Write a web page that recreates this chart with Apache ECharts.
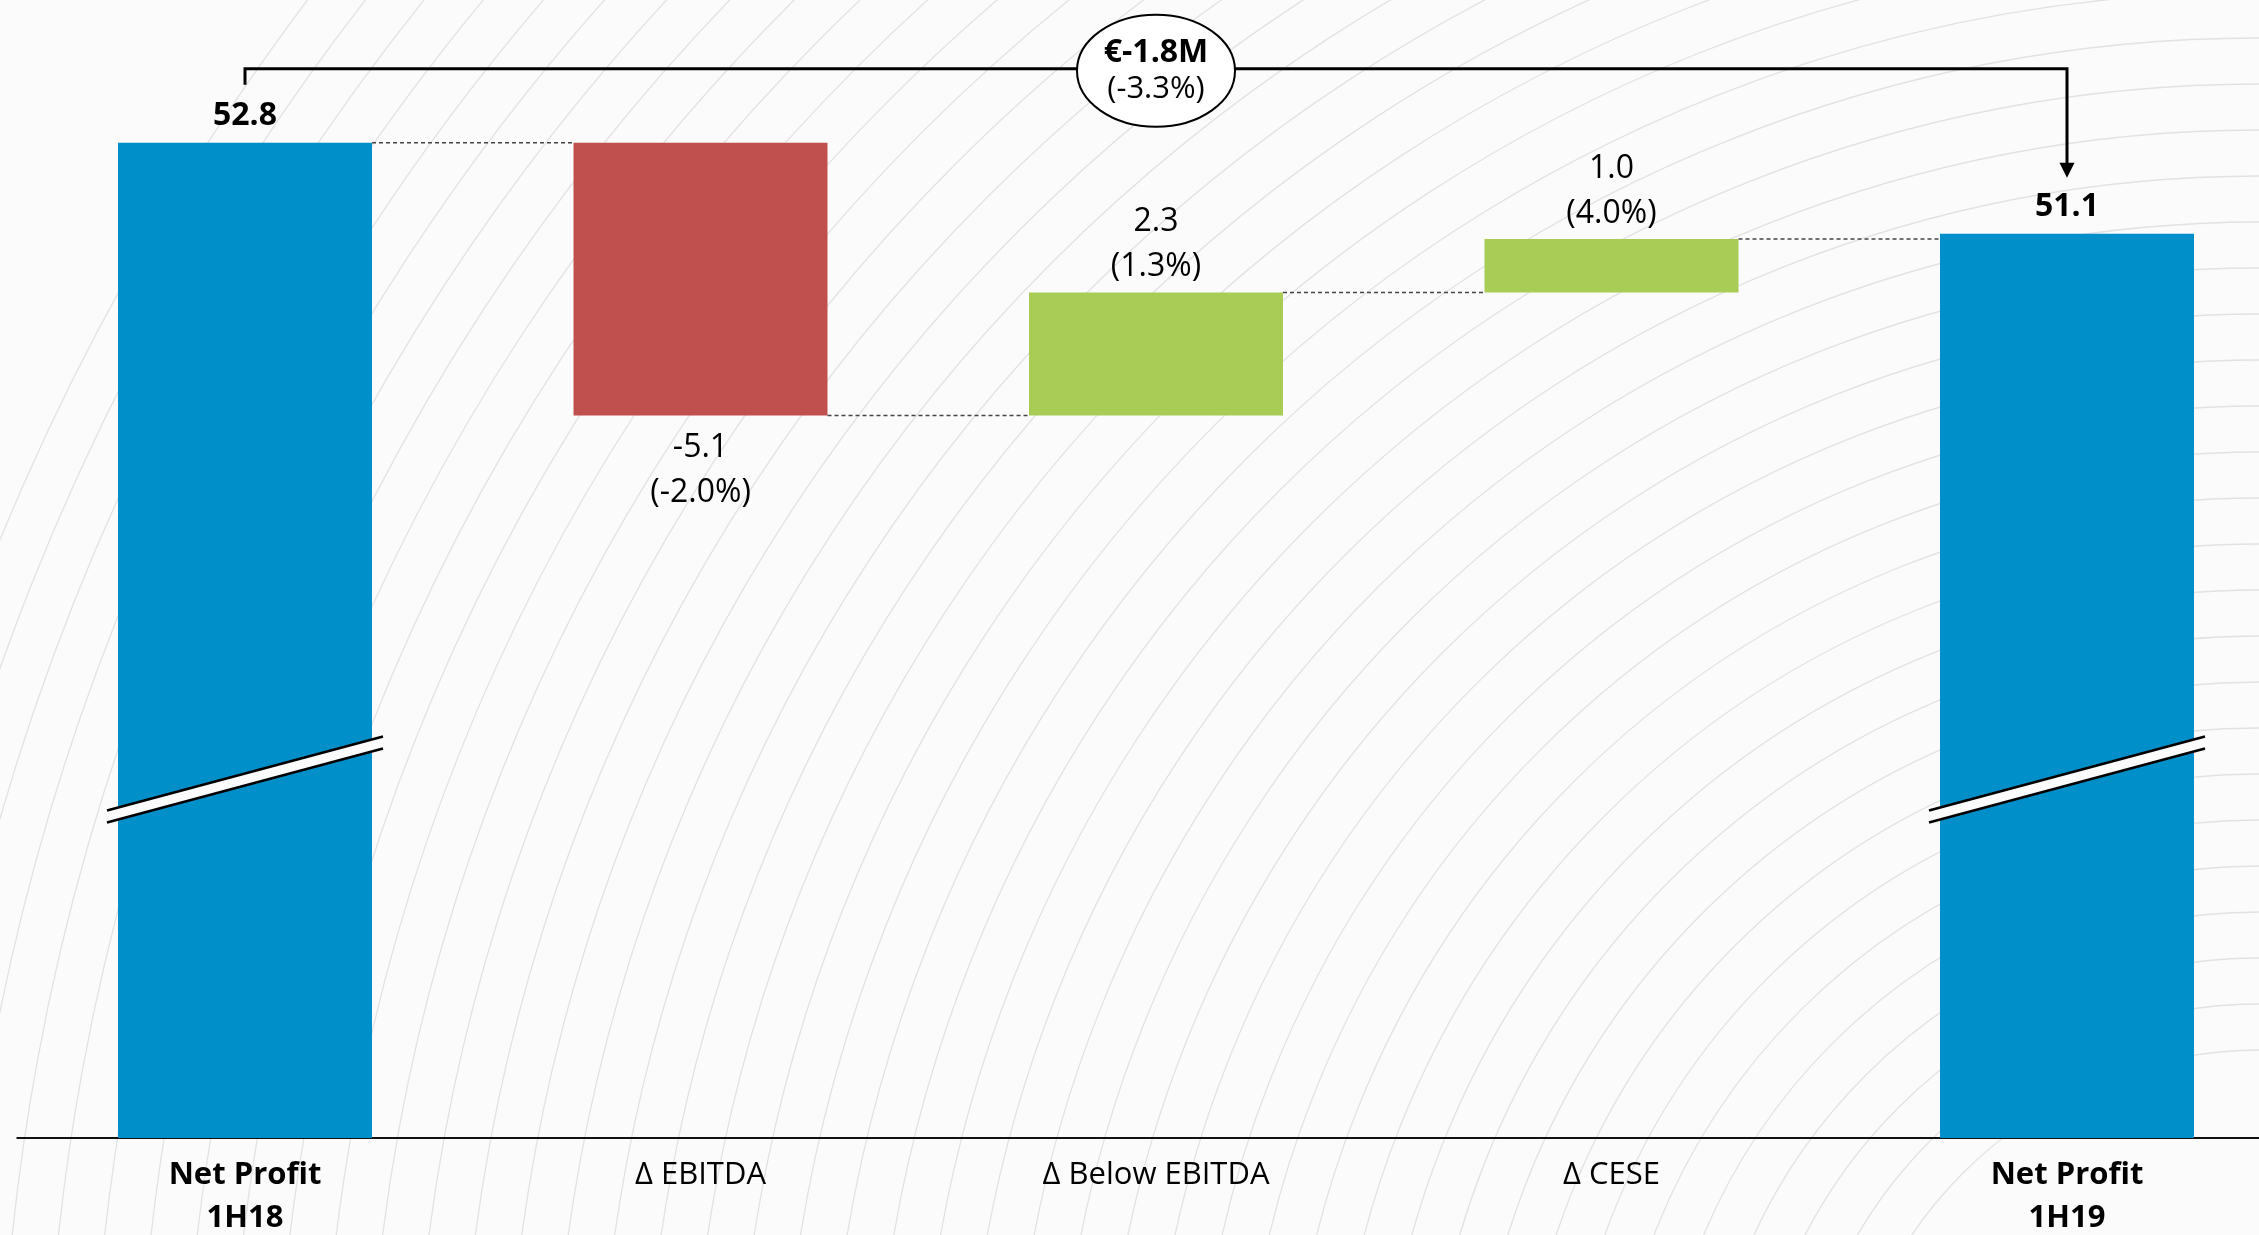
<!DOCTYPE html>
<html>
<head>
<meta charset="utf-8">
<script src="https://cdn.jsdelivr.net/npm/echarts@6/dist/echarts.min.js"></script>
<style>
  html, body { margin: 0; padding: 0; background: #fbfbfb; }
  #chart { width: 2259px; height: 1235px; }
</style>
</head>
<body>
<div id="chart"></div>
<script>
// Net profit bridge, 1H18 -> 1H19 (EUR millions)
const categories = ['Net Profit\n1H18', 'Δ EBITDA', 'Δ Below EBITDA', 'Δ CESE', 'Net Profit\n1H19'];
const isTotal = [true, false, false, false, true];
const stepValues = [52.8, -5.1, 2.3, 1.0, 51.1];
const stepPercents = ['', '(-2.0%)', '(1.3%)', '(4.0%)', ''];
const totalChangeLabel = '€-1.8M';
const totalChangePct = '(-3.3%)';

const COLORS = { total: '#008fc9', up: '#a9cc56', down: '#c0504d' };
const BG = '#fbfbfb';
const FONT = "'Open Sans', 'Noto Sans', sans-serif";
const BAR_WIDTH = 254;
const AXIS_MIN = 34.2;     // value axis is cut; totals run down through the break
const AXIS_MAX = 55;
const BREAK_VALUE = 40.9;  // where the break symbol crosses the total bars

// Build the floating waterfall from the step values
const baseData = [];
const barData = [];
const connectorData = [];
let running = 0;
stepValues.forEach((v, i) => {
  let base, height, color, position, text;
  if (isTotal[i]) {
    base = 0; height = v; running = v; color = COLORS.total; position = 'top';
    text = v.toFixed(1);
  } else if (v >= 0) {
    base = running; height = v; running += v; color = COLORS.up; position = 'top';
    text = v.toFixed(1) + '\n' + stepPercents[i];
  } else {
    base = running + v; height = -v; running += v; color = COLORS.down; position = 'bottom';
    text = v.toFixed(1) + '\n' + stepPercents[i];
  }
  baseData.push(+base.toFixed(2));
  barData.push({
    value: +height.toFixed(2),
    itemStyle: { color: color },
    label: {
      show: true,
      position: position,
      distance: isTotal[i] ? 4 : (position === 'top' ? 3 : 10),
      formatter: text,
      fontWeight: isTotal[i] ? 'bold' : 'normal'
    }
  });
  if (i < stepValues.length - 1) connectorData.push([i, +running.toFixed(2)]);
});

// Faint sweeping arcs of the slide backdrop
const backdrop = [];
for (let r = 420; r <= 2450; r += 46) {
  backdrop.push({
    type: 'arc',
    silent: true,
    z: -10,
    shape: { cx: 2260, cy: 1470, r: r, startAngle: Math.PI, endAngle: 2 * Math.PI },
    style: { stroke: '#e2e2e4', lineWidth: 1.3, fill: null }
  });
}

const chart = echarts.init(document.getElementById('chart'), null, { renderer: 'canvas' });

chart.setOption({
  backgroundColor: BG,
  animation: false,
  graphic: { elements: backdrop },
  grid: {
    left: 17.25, top: 25, width: 2277.5, bottom: 97,
    containLabel: false,
    outerBoundsMode: 'none'
  },
  xAxis: {
    type: 'category',
    data: categories.map((c, i) => ({
      value: c,
      textStyle: { fontWeight: isTotal[i] ? 'bold' : 'normal' }
    })),
    axisLine: { show: true, lineStyle: { color: '#111', width: 2 } },
    axisTick: { show: false },
    axisLabel: {
      margin: 16,
      color: '#000',
      fontFamily: FONT,
      fontSize: 31,
      lineHeight: 43,
      interval: 0
    },
    splitLine: { show: false }
  },
  yAxis: {
    type: 'value',
    min: AXIS_MIN,
    max: AXIS_MAX,
    show: false,
    splitLine: { show: false }
  },
  series: [
    {
      name: 'base',
      type: 'bar',
      stack: 'bridge',
      barWidth: BAR_WIDTH,
      silent: true,
      itemStyle: { color: 'transparent' },
      data: baseData,
      z: 2
    },
    {
      name: 'step',
      type: 'bar',
      stack: 'bridge',
      barWidth: BAR_WIDTH,
      clip: true,
      label: {
        color: '#000',
        fontFamily: FONT,
        fontSize: 32,
        lineHeight: 45
      },
      data: barData,
      z: 2
    },
    {
      // dashed connectors between consecutive bars
      name: 'connectors',
      type: 'custom',
      silent: true,
      clip: false,
      z: 3,
      data: connectorData,
      renderItem: function (params, api) {
        const i = api.value(0);
        const lvl = api.value(1);
        const p0 = api.coord([i, lvl]);
        const p1 = api.coord([i + 1, lvl]);
        return {
          type: 'line',
          shape: { x1: p0[0] + BAR_WIDTH / 2, y1: p0[1], x2: p1[0] - BAR_WIDTH / 2, y2: p1[1] },
          style: { stroke: '#444', lineWidth: 1.5, lineDash: [4, 3] }
        };
      }
    },
    {
      // axis-break symbol across the total bars
      name: 'breaks',
      type: 'custom',
      silent: true,
      clip: false,
      z: 4,
      data: isTotal.map((t, i) => t ? [i, BREAK_VALUE] : null).filter(Boolean),
      renderItem: function (params, api) {
        const c = api.coord([api.value(0), api.value(1)]);
        const hw = 138, rise = 37, gap = 6;
        const a1 = [c[0] - hw, c[1] + rise - gap], a2 = [c[0] + hw, c[1] - rise - gap];
        const b1 = [c[0] - hw, c[1] + rise + gap], b2 = [c[0] + hw, c[1] - rise + gap];
        return {
          type: 'group',
          children: [
            { type: 'polygon', shape: { points: [a1, a2, b2, b1] }, style: { fill: BG } },
            { type: 'line', shape: { x1: a1[0], y1: a1[1], x2: a2[0], y2: a2[1] }, style: { stroke: '#000', lineWidth: 2.5 } },
            { type: 'line', shape: { x1: b1[0], y1: b1[1], x2: b2[0], y2: b2[1] }, style: { stroke: '#000', lineWidth: 2.5 } }
          ]
        };
      }
    },
    {
      // overall change bracket from the first total to the last one
      name: 'bracket',
      type: 'custom',
      silent: true,
      clip: false,
      z: 5,
      dimensions: ['from', 'to', 'start', 'end'],
      encode: { x: [0, 1], y: [2, 3] },
      data: [[0, stepValues.length - 1, stepValues[0], stepValues[stepValues.length - 1]]],
      renderItem: function (params, api) {
        const s = api.coord([api.value(0), api.value(2)]);
        const e = api.coord([api.value(1), api.value(3)]);
        const topY = s[1] - 74;
        const legBottom = s[1] - 58;
        const tipY = e[1] - 56;
        const midX = (s[0] + e[0]) / 2;
        const cy = topY + 2;
        return {
          type: 'group',
          children: [
            {
              type: 'polyline',
              shape: { points: [[s[0], legBottom], [s[0], topY], [e[0], topY], [e[0], tipY - 14]] },
              style: { stroke: '#000', lineWidth: 3, fill: null }
            },
            {
              type: 'polygon',
              shape: { points: [[e[0] - 7.5, tipY - 15], [e[0] + 7.5, tipY - 15], [e[0], tipY]] },
              style: { fill: '#000' }
            },
            {
              type: 'ellipse',
              shape: { cx: midX, cy: cy, rx: 79, ry: 56 },
              style: { fill: '#ffffff', stroke: '#000', lineWidth: 2 }
            },
            {
              type: 'text',
              style: {
                x: midX, y: cy - 18, text: totalChangeLabel, align: 'center', verticalAlign: 'middle',
                font: 'bold 32px ' + FONT, fill: '#000'
              }
            },
            {
              type: 'text',
              style: {
                x: midX, y: cy + 18, text: totalChangePct, align: 'center', verticalAlign: 'middle',
                font: '31px ' + FONT, fill: '#000'
              }
            }
          ]
        };
      }
    }
  ]
});
</script>
</body>
</html>
